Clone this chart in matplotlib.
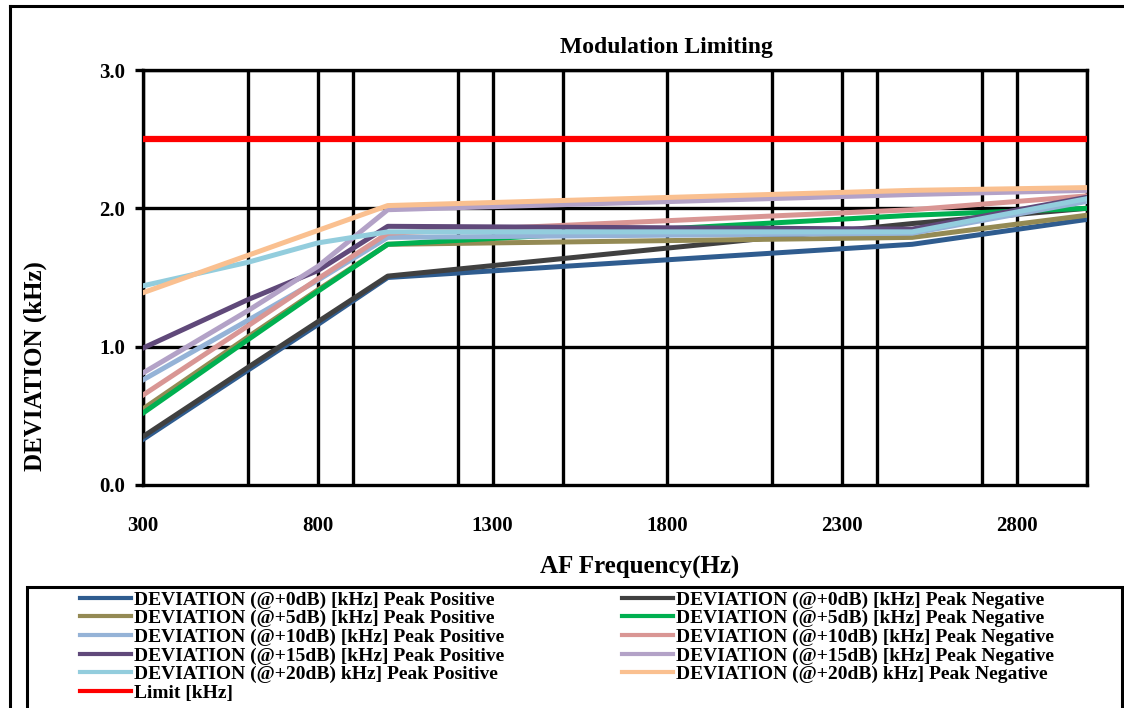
import matplotlib
matplotlib.use("Agg")
import matplotlib.pyplot as plt
from matplotlib.lines import Line2D
from matplotlib.patches import Rectangle

# data
freq = [300, 600, 800, 1000, 2500, 3000]

pos_0db = [0.33, 0.83, 1.16, 1.50, 1.74, 1.92]
neg_0db = [0.35, 0.85, 1.18, 1.51, 1.89, 2.00]
pos_5db = [0.55, 1.07, 1.41, 1.74, 1.79, 1.95]
neg_5db = [0.52, 1.05, 1.40, 1.74, 1.95, 2.00]
pos_10db = [0.76, 1.19, 1.48, 1.79, 1.82, 2.05]
neg_10db = [0.65, 1.15, 1.49, 1.82, 1.99, 2.09]
pos_15db = [0.99, 1.34, 1.55, 1.87, 1.85, 2.08]
neg_15db = [0.81, 1.26, 1.58, 1.99, 2.10, 2.13]
pos_20db = [1.44, 1.61, 1.75, 1.83, 1.83, 2.07]
neg_20db = [1.39, 1.66, 1.84, 2.02, 2.13, 2.15]
limit = [2.5, 2.5, 2.5, 2.5, 2.5, 2.5]

grid_x = [300, 600, 800, 900, 1200, 1300, 1500, 1800, 2100, 2300, 2400, 2700, 2800, 3000]
x_ticks = [300, 800, 1300, 1800, 2300, 2800]
y_ticks = [0.0, 1.0, 2.0, 3.0]

labels_pos = ["DEVIATION (@+0dB) [kHz] Peak Positive",
              "DEVIATION (@+5dB) [kHz] Peak Positive",
              "DEVIATION (@+10dB) [kHz] Peak Positive",
              "DEVIATION (@+15dB) [kHz] Peak Positive",
              "DEVIATION (@+20dB) kHz] Peak Positive"]
labels_neg = ["DEVIATION (@+0dB) [kHz] Peak Negative",
              "DEVIATION (@+5dB) [kHz] Peak Negative",
              "DEVIATION (@+10dB) [kHz] Peak Negative",
              "DEVIATION (@+15dB) [kHz] Peak Negative",
              "DEVIATION (@+20dB) kHz] Peak Negative"]

colors_pos = ["#2F5C8F", "#948A54", "#95B3D7", "#60497A", "#93CDDD"]
colors_neg = ["#404040", "#00B050", "#D99694", "#B3A2C7", "#FAC090"]

series_pos = [pos_0db, pos_5db, pos_10db, pos_15db, pos_20db]
series_neg = [neg_0db, neg_5db, neg_10db, neg_15db, neg_20db]

plt.rcParams['font.family'] = ['Liberation Serif', 'DejaVu Serif']
plt.rcParams['font.weight'] = 'bold'

fig = plt.figure(figsize=(11.24, 7.08), dpi=100)
ax = fig.add_axes([143 / 1124, 1 - 485 / 708, (1087 - 143) / 1124, (485 - 70) / 708])

for gx in grid_x:
    ax.axvline(gx, color='black', linewidth=2.4, zorder=1)
for gy in y_ticks[1:]:
    ax.axhline(gy, color='black', linewidth=2.4, zorder=1)

# positive and negative curves interleaved, upper ones drawn last
for i in range(5):
    ax.plot(freq, series_pos[i], color=colors_pos[i], linewidth=3.6, zorder=3)
    ax.plot(freq, series_neg[i], color=colors_neg[i], linewidth=3.6, zorder=3)
ax.plot(freq, limit, color='#FF0000', linewidth=4.5, zorder=4)

handles_pos = [Line2D([], [], color=c, linewidth=3) for c in colors_pos]
handles_neg = [Line2D([], [], color=c, linewidth=3) for c in colors_neg]
h_limit = Line2D([], [], color='#FF0000', linewidth=3)

ax.set_xlim(300, 3000)
ax.set_ylim(0, 3.0)
ax.set_xticks(x_ticks)
ax.set_xticklabels([str(v) for v in x_ticks], fontsize=15, fontweight='bold')
ax.set_yticks(y_ticks)
ax.set_yticklabels(["%.1f" % v for v in y_ticks], fontsize=15, fontweight='bold')
ax.tick_params(axis='x', length=0, pad=22)
ax.tick_params(axis='y', length=6, width=2.4, pad=7)
for s in ax.spines.values():
    s.set_linewidth(2.4)
    s.set_color('black')

fig.text(666 / 1124, 1 - 48 / 708, "Modulation Limiting", ha='center', va='center',
         fontsize=17, fontweight='bold')
fig.text(640 / 1124, 1 - 567 / 708, "AF Frequency(Hz)", ha='center', va='center',
         fontsize=18, fontweight='bold')
fig.text(35 / 1124, 1 - 366 / 708, "DEVIATION (kHz)", ha='center', va='center',
         rotation=90, fontsize=18, fontweight='bold')

# outer chart frame
fig.add_artist(Line2D([10 / 1124, 10 / 1124], [0, 1 - 6 / 708], color='black', linewidth=2.2,
                      transform=fig.transFigure))
fig.add_artist(Line2D([10 / 1124, 1], [1 - 6 / 708, 1 - 6 / 708], color='black', linewidth=2.2,
                      transform=fig.transFigure))
# legend box
fig.add_artist(Rectangle((27 / 1124, -0.05), (1122 - 27) / 1124, 1 - 587 / 708 + 0.05,
                         fill=False, edgecolor='black', linewidth=2.2, transform=fig.transFigure))

leg_opts = dict(loc='upper left', frameon=False, handlelength=2.6, handletextpad=0.2,
                labelspacing=0.05, borderpad=0, borderaxespad=0,
                prop={'weight': 'bold', 'size': 14})
fig.legend(handles_pos + [h_limit], labels_pos + ["Limit [kHz]"],
           bbox_to_anchor=(80 / 1124, 1 - 591 / 708), **leg_opts)
fig.legend(handles_neg, labels_neg,
           bbox_to_anchor=(622 / 1124, 1 - 591 / 708), **leg_opts)

fig.savefig("out.png", dpi=100)
